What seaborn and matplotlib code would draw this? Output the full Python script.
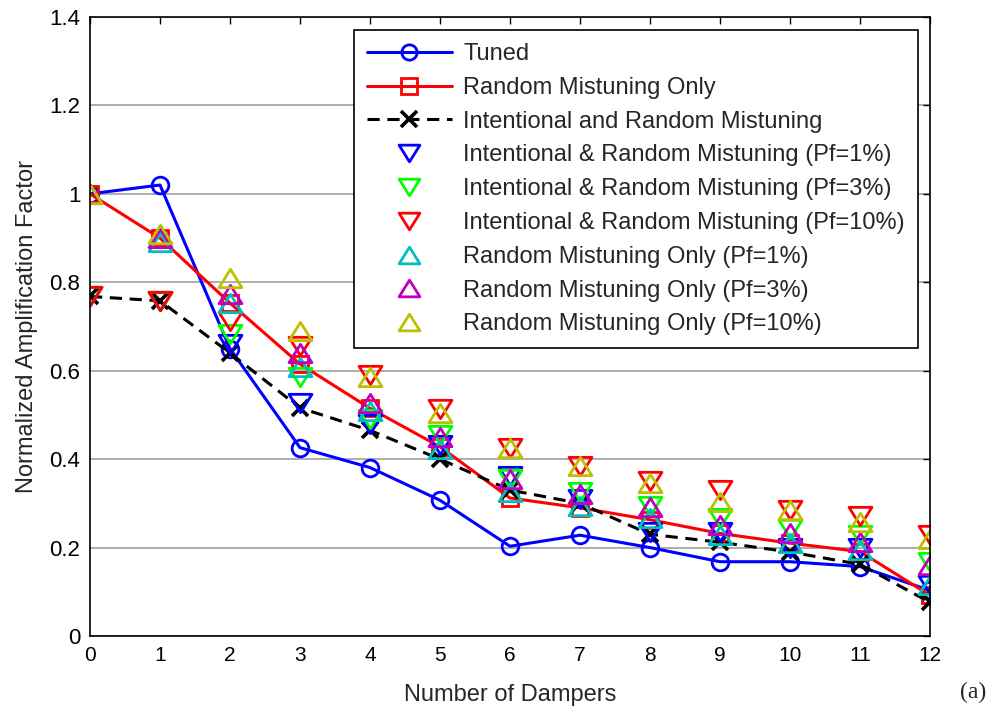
import numpy as np
import pandas as pd
import matplotlib
matplotlib.use("Agg")
import matplotlib.pyplot as plt
from matplotlib.path import Path
import seaborn as sns

# ---- data ----
dampers = list(range(13))
tuned = [1.00, 1.02, 0.65, 0.426, 0.381, 0.307, 0.203, 0.228, 0.200, 0.168, 0.168, 0.157, 0.103]
random_only = [1.00, 0.90, 0.753, 0.615, 0.515, 0.428, 0.312, 0.290, 0.263, 0.232, 0.210, 0.191, 0.092]
intentional_random = [0.768, 0.758, 0.640, 0.516, 0.465, 0.400, 0.330, 0.300, 0.230, 0.212, 0.190, 0.162, 0.076]
ir_pf1 = [0.768, 0.758, 0.660, 0.527, 0.480, 0.433, 0.363, 0.310, 0.235, 0.235, 0.200, 0.198, 0.115]
ir_pf3 = [0.768, 0.758, 0.683, 0.585, 0.490, 0.455, 0.355, 0.325, 0.295, 0.268, 0.243, 0.228, 0.167]
ir_pf10 = [0.768, 0.758, 0.712, 0.655, 0.590, 0.514, 0.426, 0.385, 0.351, 0.330, 0.284, 0.272, 0.228]
r_pf1 = [1.00, 0.890, 0.753, 0.608, 0.510, 0.424, 0.325, 0.295, 0.268, 0.228, 0.210, 0.194, 0.115]
r_pf3 = [1.00, 0.900, 0.773, 0.640, 0.527, 0.450, 0.356, 0.322, 0.291, 0.250, 0.232, 0.212, 0.160]
r_pf10 = [1.00, 0.910, 0.810, 0.690, 0.585, 0.505, 0.426, 0.385, 0.347, 0.302, 0.284, 0.257, 0.220]

x_ticks = list(range(13))
y_ticks = [0, 0.2, 0.4, 0.6, 0.8, 1.0, 1.2, 1.4]
y_ticklabels = ["0", "0.2", "0.4", "0.6", "0.8", "1", "1.2", "1.4"]

tri_up = Path([(0, 0.8), (-1, -0.8), (1, -0.8), (0, 0.8)], closed=True)
tri_down = Path([(0, -0.8), (-1, 0.8), (1, 0.8), (0, -0.8)], closed=True)

line_series = [
    ("Tuned", tuned, "#0000FF", "o", "-", 12),
    ("Random Mistuning Only", random_only, "#FF0000", "s", "-", 12),
    ("Intentional and Random Mistuning", intentional_random, "#000000", "x", "--", 12),
]
marker_series = [
    ("Intentional & Random Mistuning (Pf=1%)", ir_pf1, "#0000FF", tri_down),
    ("Intentional & Random Mistuning (Pf=3%)", ir_pf3, "#00FF00", tri_down),
    ("Intentional & Random Mistuning (Pf=10%)", ir_pf10, "#FF0000", tri_down),
    ("Random Mistuning Only (Pf=1%)", r_pf1, "#00BFBF", tri_up),
    ("Random Mistuning Only (Pf=3%)", r_pf3, "#BF00BF", tri_up),
    ("Random Mistuning Only (Pf=10%)", r_pf10, "#BFBF00", tri_up),
]

sns.set_theme(style="white")
plt.rcParams["font.family"] = ["Liberation Sans", "DejaVu Sans"]

fig = plt.figure(figsize=(10.02, 7.13), dpi=100)
ax = fig.add_axes([90 / 1002, 1 - 636 / 713, 840 / 1002, (636 - 17) / 713])

for name, vals, col, mk, ls, ms in line_series:
    df = pd.DataFrame({"x": dampers, "y": vals})
    sns.lineplot(data=df, x="x", y="y", ax=ax, color=col, linewidth=2.2,
                 marker=mk, markersize=ms, markerfacecolor="none", markeredgecolor=col,
                 markeredgewidth=2.0 if mk != "x" else 2.6, label=name, sort=False)
    ax.lines[-1].set_linestyle(ls)
    if ls == "--":
        ax.lines[-1].set_dashes([4, 2.5])

for name, vals, col, mk in marker_series:
    df = pd.DataFrame({"x": dampers, "y": vals})
    sns.lineplot(data=df, x="x", y="y", ax=ax, color=col, linestyle="none",
                 marker=mk, markersize=16.5, markerfacecolor="none", markeredgecolor=col,
                 markeredgewidth=2.0, label=name, sort=False)

ax.set_xlim(0, 12)
ax.set_ylim(0, 1.4)
ax.set_xticks(x_ticks)
ax.set_xticklabels([str(t) for t in x_ticks])
ax.set_yticks(y_ticks)
ax.set_yticklabels(y_ticklabels)
ax.yaxis.grid(True, color="#a0a0a0", linewidth=1.2)
ax.xaxis.grid(False)
ax.set_axisbelow(True)
ax.tick_params(axis="both", direction="in", length=5, width=1, top=True, right=True,
               colors="black", pad=7)
ax.tick_params(axis="x", labelsize=15)
ax.tick_params(axis="y", labelsize=16)
for s in ax.spines.values():
    s.set_color("black")
    s.set_linewidth(1.2)

ax.set_xlabel("Number of Dampers", fontsize=17, labelpad=14)
ax.set_ylabel("Normalized Amplification Factor", fontsize=17, labelpad=8)

leg = ax.legend(loc="upper right", bbox_to_anchor=((918 - 90) / 840, 1 - (30 - 17) / 619),
                bbox_transform=ax.transAxes, fontsize=17,
                frameon=True, fancybox=False, edgecolor="black", framealpha=1,
                handlelength=3.6, labelspacing=0.5, borderpad=0.55, handletextpad=0.5,
                borderaxespad=0)
leg.get_frame().set_linewidth(1.2)
for h in leg.legend_handles:
    try:
        if h.get_marker() in ("o", "s", "x"):
            h.set_markersize(11)
        else:
            h.set_markersize(15)
    except Exception:
        pass

fig.text(973 / 1002, 1 - 692 / 713, "(a)", fontsize=17, family="Liberation Serif",
         ha="center", va="center")

fig.savefig("out.png", dpi=100)
